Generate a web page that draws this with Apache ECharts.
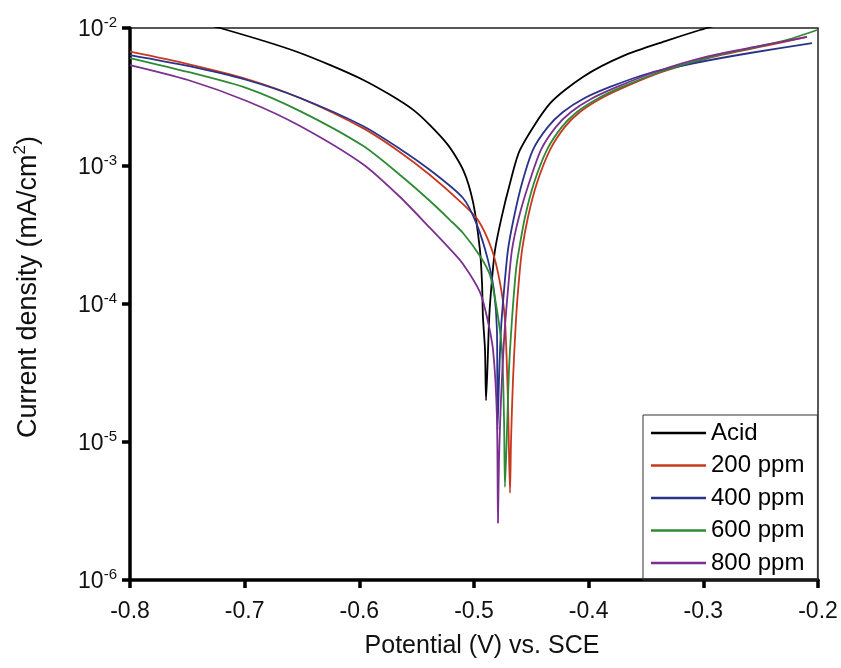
<!DOCTYPE html>
<html>
<head>
<meta charset="utf-8">
<script src="https://cdn.jsdelivr.net/npm/echarts@6/dist/echarts.min.js"></script>
<style>
html,body{margin:0;padding:0;background:#fff;}
#chart{width:841px;height:668px;}
</style>
</head>
<body>
<div id="chart"></div>
<script>
// Potential (V vs SCE), current density (mA/cm2)
const seriesNames = ['Acid', '200 ppm', '400 ppm', '600 ppm', '800 ppm'];
const xTicks = [-0.8, -0.7, -0.6, -0.5, -0.4, -0.3, -0.2];
const yTickExponents = [-6, -5, -4, -3, -2];

const acid = [
  [-0.80, 1.45e-2], [-0.76, 1.20e-2], [-0.7215, 1.0e-2], [-0.6546, 6.73e-3],
  [-0.5965, 4.20e-3], [-0.553, 2.55e-3], [-0.5238, 1.46e-3], [-0.5093, 9.3e-4],
  [-0.5007, 5.4e-4], [-0.4948, 2.46e-4], [-0.4930, 1.42e-4], [-0.4922, 8.05e-5],
  [-0.4904, 4.65e-5], [-0.4895, 2.0e-5], [-0.4867, 8.1e-5], [-0.4846, 1.41e-4],
  [-0.4817, 2.46e-4], [-0.4758, 4.3e-4], [-0.4686, 7.5e-4], [-0.4599, 1.31e-3],
  [-0.4337, 2.84e-3], [-0.4047, 4.44e-3], [-0.3698, 6.28e-3], [-0.3317, 8.10e-3],
  [-0.3029, 9.67e-3], [-0.2768, 1.12e-2]
];
const ppm200 = [
  [-0.80, 6.73e-3], [-0.7494, 5.48e-3], [-0.6982, 4.27e-3], [-0.6517, 3.11e-3],
  [-0.5968, 1.88e-3], [-0.5645, 1.26e-3], [-0.5384, 8.61e-4], [-0.5096, 5.30e-4],
  [-0.4965, 4.06e-4], [-0.4843, 2.46e-4], [-0.4773, 1.42e-4], [-0.4730, 7.66e-5],
  [-0.4704, 2.0e-5], [-0.4686, 4.27e-6], [-0.4677, 1.03e-5], [-0.4660, 2.81e-5],
  [-0.4634, 7.66e-5], [-0.4608, 1.49e-4], [-0.4581, 2.46e-4], [-0.4529, 4.27e-4],
  [-0.4451, 7.53e-4], [-0.4337, 1.31e-3], [-0.4207, 1.92e-3], [-0.4076, 2.46e-3],
  [-0.3901, 3.06e-3], [-0.3683, 3.74e-3], [-0.3361, 4.80e-3], [-0.2925, 6.16e-3],
  [-0.2462, 7.41e-3], [-0.2096, 8.61e-3]
];
const ppm400 = [
  [-0.80, 6.37e-3], [-0.7494, 5.31e-3], [-0.6982, 4.20e-3], [-0.6517, 3.11e-3],
  [-0.5968, 1.95e-3], [-0.5645, 1.33e-3], [-0.5384, 9.35e-4], [-0.5096, 5.86e-4],
  [-0.4974, 3.74e-4], [-0.4878, 2.08e-4], [-0.4826, 1.26e-4], [-0.4800, 6.49e-5],
  [-0.4797, 2.81e-5], [-0.4795, 1.22e-5], [-0.4782, 2.81e-5], [-0.4765, 6.49e-5],
  [-0.4738, 1.26e-4], [-0.4704, 2.46e-4], [-0.4651, 4.27e-4], [-0.4581, 7.53e-4],
  [-0.4486, 1.31e-3], [-0.4355, 1.92e-3], [-0.4224, 2.46e-3], [-0.4050, 3.06e-3],
  [-0.3814, 3.74e-3], [-0.3465, 4.72e-3], [-0.3029, 5.67e-3], [-0.2593, 6.59e-3],
  [-0.2052, 7.78e-3]
];
const ppm600 = [
  [-0.80, 6.06e-3], [-0.7494, 4.80e-3], [-0.6982, 3.67e-3], [-0.6517, 2.50e-3],
  [-0.5968, 1.40e-3], [-0.5645, 8.61e-4], [-0.5384, 5.58e-4], [-0.5209, 4.06e-4],
  [-0.5096, 3.27e-4], [-0.4948, 2.23e-4], [-0.4861, 1.62e-4], [-0.4800, 9.06e-5],
  [-0.4756, 4.65e-5], [-0.4738, 1.44e-5], [-0.4730, 4.72e-6], [-0.4712, 1.22e-5],
  [-0.4695, 3.33e-5], [-0.4669, 7.66e-5], [-0.4634, 1.76e-4], [-0.4608, 2.46e-4],
  [-0.4555, 4.27e-4], [-0.4477, 7.53e-4], [-0.4364, 1.31e-3], [-0.4233, 1.92e-3],
  [-0.4102, 2.46e-3], [-0.3927, 3.06e-3], [-0.3709, 3.74e-3], [-0.3378, 4.80e-3],
  [-0.2942, 6.16e-3], [-0.2462, 7.53e-3], [-0.2244, 8.32e-3], [-0.2009, 9.67e-3]
];
const ppm800 = [
  [-0.80, 5.39e-3], [-0.7494, 4.20e-3], [-0.6982, 2.96e-3], [-0.6517, 1.95e-3],
  [-0.5968, 1.03e-3], [-0.5645, 5.96e-4], [-0.5384, 3.56e-4], [-0.5209, 2.50e-4],
  [-0.5096, 1.95e-4], [-0.4948, 1.22e-4], [-0.4887, 8.05e-5], [-0.4834, 4.65e-5],
  [-0.4800, 1.52e-5], [-0.4791, 2.59e-6], [-0.4782, 7.41e-6], [-0.4765, 2.01e-5],
  [-0.4738, 5.48e-5], [-0.4704, 1.26e-4], [-0.4669, 2.46e-4], [-0.4608, 4.27e-4],
  [-0.4520, 7.53e-4], [-0.4416, 1.31e-3], [-0.4285, 1.92e-3], [-0.4154, 2.46e-3],
  [-0.3980, 3.06e-3], [-0.3753, 3.74e-3], [-0.3422, 4.80e-3], [-0.2986, 6.16e-3],
  [-0.2506, 7.41e-3], [-0.2096, 8.61e-3]
];

const seriesData = [acid, ppm200, ppm400, ppm600, ppm800];
const colors = ['#000000', '#c8381f', '#28348a', '#2e8a35', '#7b2f8f'];
const FONT = '"Liberation Sans", Arial, sans-serif';

const chart = echarts.init(document.getElementById('chart'), null, {renderer: 'canvas'});

const option = {
  backgroundColor: '#ffffff',
  animation: false,
  grid: {
    left: 130, right: 23, top: 28, bottom: 88,
    show: true, borderColor: '#222', borderWidth: 1.5, backgroundColor: 'transparent'
  },
  legend: {
    data: seriesNames,
    orient: 'vertical',
    left: 643, top: 415,
    padding: [5, 13, 4, 8],
    itemWidth: 55, itemHeight: 2.5, itemGap: 6.5,
    icon: 'rect',
    borderColor: '#333', borderWidth: 1,
    textStyle: {fontFamily: FONT, fontSize: 24, color: '#000', lineHeight: 26}
  },
  xAxis: {
    type: 'value',
    min: xTicks[0], max: xTicks[xTicks.length - 1], interval: 0.1,
    axisLine: {onZero: false, lineStyle: {color: '#000', width: 3.5}},
    axisTick: {length: 8, lineStyle: {color: '#000', width: 3.5}},
    axisLabel: {
      fontFamily: FONT, fontSize: 23, color: '#111', margin: 20,
      formatter: v => v.toFixed(1)
    },
    splitLine: {show: false}
  },
  yAxis: {
    type: 'log', logBase: 10,
    min: Math.pow(10, yTickExponents[0]),
    max: Math.pow(10, yTickExponents[yTickExponents.length - 1]),
    axisLine: {show: true, onZero: false, lineStyle: {color: '#000', width: 3.5}},
    axisTick: {show: true, length: 8, lineStyle: {color: '#000', width: 3.5}},
    minorTick: {show: false},
    splitLine: {show: false},
    axisLabel: {
      margin: 13,
      formatter: v => '{b|10}{s|' + Math.round(Math.log10(v)) + '}',
      rich: {
        b: {fontFamily: FONT, fontSize: 23, color: '#111', lineHeight: 26, verticalAlign: 'bottom'},
        s: {fontFamily: FONT, fontSize: 15, color: '#111', lineHeight: 14, verticalAlign: 'top'}
      }
    }
  },
  graphic: [
    {
      type: 'text', x: 27, y: 287, rotation: Math.PI / 2,
      style: {
        text: '{a|Current density (mA/cm}{s|2}{a|)}',
        align: 'center', verticalAlign: 'middle',
        rich: {
          a: {fontFamily: FONT, fontSize: 27, fill: '#111', lineHeight: 30, verticalAlign: 'bottom'},
          s: {fontFamily: FONT, fontSize: 17, fill: '#111', lineHeight: 16, verticalAlign: 'top'}
        }
      }
    },
    {
      type: 'text', x: 482, y: 646,
      style: {
        text: 'Potential (V) vs. SCE',
        align: 'center', verticalAlign: 'middle',
        font: '25px ' + FONT, fill: '#111'
      }
    }
  ],
  series: seriesNames.map((name, k) => ({
    name: name,
    type: 'line',
    data: seriesData[k],
    showSymbol: false,
    symbol: 'none',
    smooth: 0.25,
    clip: true,
    color: colors[k],
    lineStyle: {color: colors[k], width: 1.8}
  }))
};

chart.setOption(option);
</script>
</body>
</html>
